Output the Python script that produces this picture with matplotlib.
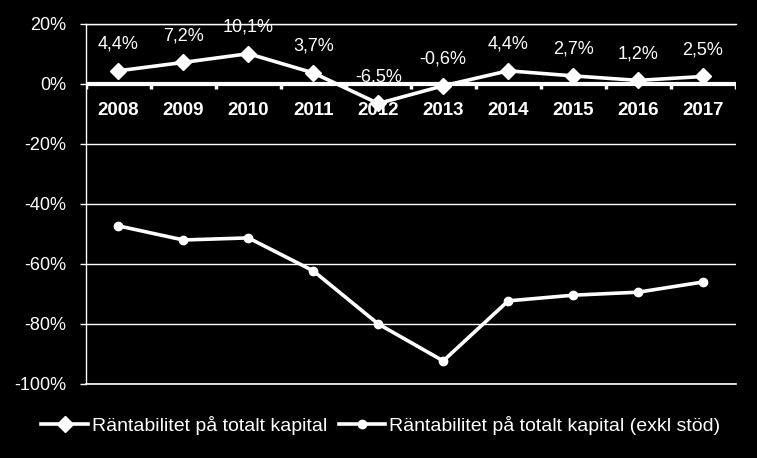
import matplotlib.pyplot as plt
from matplotlib.ticker import FuncFormatter

years = ['2008', '2009', '2010', '2011', '2012', '2013', '2014', '2015', '2016', '2017']
total = [4.4, 7.2, 10.1, 3.7, -6.5, -0.6, 4.4, 2.7, 1.2, 2.5]
exkl_stod = [-47.3, -52.0, -51.3, -62.3, -80.0, -92.3, -72.3, -70.4, -69.4, -66.0]
labels = ['4,4%', '7,2%', '10,1%', '3,7%', '-6,5%', '-0,6%', '4,4%', '2,7%', '1,2%', '2,5%']
name1 = 'Räntabilitet på totalt kapital'
name2 = 'Räntabilitet på totalt kapital (exkl stöd)'

plt.rcParams['font.family'] = ['Liberation Sans', 'DejaVu Sans']

fig = plt.figure(figsize=(7.57, 4.58), dpi=100, facecolor='black')
ax = fig.add_axes([0.1136, 0.1616, 0.858, 0.786])
ax.set_facecolor('black')

x = list(range(len(years)))
ax.plot(x, total, color='white', lw=2.6, marker='D', ms=8, label=name1, zorder=4)
ax.plot(x, exkl_stod, color='white', lw=2.6, marker='o', ms=6, label=name2, zorder=4)

for xi, v, t in zip(x, total, labels):
    ax.annotate(t, (xi, v), xytext=(0, 13), textcoords='offset points',
                ha='center', va='bottom', color='white', fontsize=13)

ax.set_xlim(-0.5, len(years) - 0.5)
ax.set_ylim(-100, 20)
ax.set_yticks(range(-100, 21, 20))
ax.yaxis.set_major_formatter(FuncFormatter(lambda v, p: f'{int(v)}%'))
ax.tick_params(axis='y', colors='white', labelsize=13, length=4, width=1, pad=10)
ax.grid(axis='y', color='white', lw=1)
ax.axhline(-100, color='white', lw=1.2, clip_on=False)
ax.axhline(20, color='white', lw=1, clip_on=False)
ax.set_axisbelow(True)

for s in ['top', 'right', 'bottom']:
    ax.spines[s].set_visible(False)
ax.spines['left'].set_color('white')
ax.spines['left'].set_linewidth(1)

# zero line with category ticks
ax.axhline(0, color='white', lw=3, zorder=3)
ax.set_xticks([])
for b in range(len(years) + 1):
    ax.plot([b - 0.5, b - 0.5], [0, -1.8], color='white', lw=2.5, zorder=3,
            solid_capstyle='butt')
for xi, y in zip(x, years):
    ax.text(xi, -6, y, ha='center', va='top', color='white', fontsize=13.5,
            fontweight='bold')

leg = ax.legend(loc='upper center', bbox_to_anchor=(0.454, -0.04), ncol=2,
                frameon=False, fontsize=14, handlelength=2.4, columnspacing=0.6,
                handletextpad=0.2)
for t in leg.get_texts():
    t.set_color('white')

fig.savefig('out.png', dpi=100, facecolor='black')
